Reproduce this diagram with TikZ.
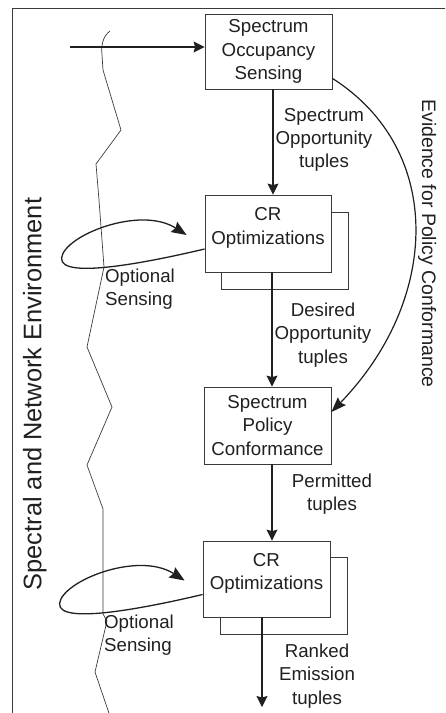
\documentclass[tikz,border=0pt]{standalone}
\usepackage{fontspec}
\setmainfont{Liberation Sans}
\usetikzlibrary{arrows.meta}

\definecolor{ink}{HTML}{202020}
\definecolor{pen}{HTML}{3A3A3A}

\tikzset{
  txt/.style={font=\fontsize{18.7}{23.3}\selectfont, text=ink, inner sep=0pt, align=center},
  procbox/.style={txt, draw=pen, line width=0.8pt, fill=white,
                  minimum width=127pt, minimum height=76pt},
  shadowbox/.style={draw=pen, line width=0.8pt},
  flow/.style={draw=ink, line width=1.2pt, -{Stealth[length=11pt,width=11pt,inset=1.5pt]}},
  senseflow/.style={draw=ink, line width=1.3pt, -{Stealth[length=15pt,width=12pt,inset=2pt]}},
  thinline/.style={draw=pen, line width=0.7pt},
}

% feedback loop on the left of an optimisation box
\newcommand{\sensingloop}[2]{%
  \begin{scope}[shift={(#1.west)}]
    \draw[senseflow] ([yshift=-15.5pt]#1.west)
      .. controls (-55,-28.5) and (-145,-46.5) .. (-143,-24.5)
      .. controls (-141,-2.5) and (-65,28.5) .. (-18,-1.5) coordinate (#2);
  \end{scope}}

\begin{document}
\begin{tikzpicture}[x=1pt,y=1pt]
  \useasboundingbox (0,0) rectangle (445,-713);
  \clip (0,0) rectangle (445,-713);

  % outer frame
  \draw[thinline] (12,-730) -- (12,-8) -- (460,-8);

  % boundary of the spectral and network environment
  \draw[thinline] (110,-31) .. controls (103,-36) and (101,-45) .. (102,-55)
    -- (103,-70) -- (121,-130) -- (96,-164) -- (99,-200) -- (104,-267)
    -- (87,-347) -- (112,-407) -- (87,-465) -- (103,-509) -- (103,-614)
    -- (107,-621) -- (95,-672) -- (113,-725);

  \node[rotate=90, anchor=base, font=\fontsize{25.4}{30}\selectfont, text=ink, inner sep=0pt]
    (env) at (41.5,-394) {Spectral and Network Environment};

  % processing stages
  \node[procbox, minimum height=75pt] (b1) at (268.5,-51.5) {Spectrum\\Occupancy\\Sensing};

  \draw[shadowbox] (221,-212) rectangle (348,-289);
  \node[procbox, minimum width=126pt, minimum height=77pt] (b2) at (268,-233.5)
    {CR\\Optimizations\\[-8pt]\mbox{}};

  \node[procbox, minimum height=77pt] (b3) at (267.5,-425.5) {Spectrum\\Policy\\Conformance};

  \draw[shadowbox] (220,-557) rectangle (347,-634);
  \node[procbox] (b4) at (266.5,-579) {CR\\Optimizations\\[-8pt]\mbox{}};

  % x positions of the vertical flows
  \coordinate (xa) at (273,0);
  \coordinate (xb) at (272,0);
  \coordinate (xc) at (262,0);
  \coordinate (src) at (70,-47);
  \coordinate (sink) at (262,-707);

  % flows between stages
  \draw[flow] (src) -- (b1.west |- src);
  \draw[flow] (b1.south -| xa) -- (b2.north -| xa);
  \draw[flow] (b2.south -| xb) -- (b3.north -| xb);
  \draw[flow] (b3.south -| xb) -- (b4.north -| xb);
  \draw[flow] (b4.south -| xc) -- (sink);

  \draw[draw=ink, line width=1.2pt, -{Stealth[length=15pt,width=11pt,inset=2pt]}]
    ([yshift=11pt]b1.south east) .. controls (445,-150) and (440,-300) .. ([yshift=13.5pt]b3.east);

  \sensingloop{b2}{t2}
  \sensingloop{b4}{t4}

  % flow labels
  \node[txt] (l1) at (324,-140) {Spectrum\\Opportunity\\tuples};
  \node[txt] (l2) at (323,-335) {Desired\\Opportunity\\tuples};
  \node[txt] (l3) at (332,-494) {Permitted\\tuples};
  \node[txt] (l4) at (317,-676) {Ranked\\Emission\\tuples};
  \node[txt, align=left, anchor=west] (o1) at (105,-289) {Optional\\Sensing};
  \node[txt, align=left, anchor=west] (o2) at (104,-635) {Optional\\Sensing};

  \node[rotate=-90, anchor=base, font=\fontsize{19.5}{24}\selectfont, text=ink, inner sep=0pt]
    (ev) at (422,-243.5) {Evidence for Policy Conformance};
\end{tikzpicture}
\end{document}
